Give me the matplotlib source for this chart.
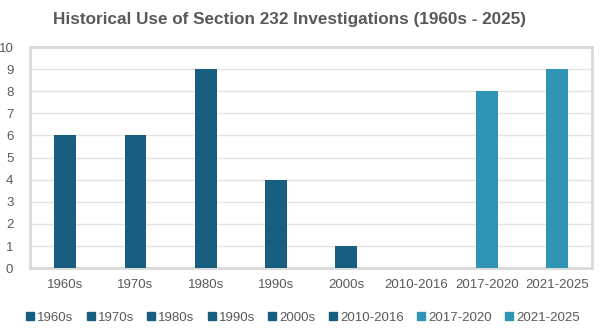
import matplotlib
matplotlib.use("Agg")
import matplotlib.pyplot as plt
from matplotlib.lines import Line2D

categories = ["1960s", "1970s", "1980s", "1990s", "2000s", "2010-2016", "2017-2020", "2021-2025"]
values = [6, 6, 9, 4, 1, 0, 8, 9]
colors = ["#185E80", "#185E80", "#185E80", "#185E80", "#185E80", "#185E80", "#3095B5", "#3095B5"]
yticks = list(range(0, 11))

plt.rcParams['font.family'] = ['Liberation Sans', 'DejaVu Sans']
fig = plt.figure(figsize=(6, 3.29), dpi=100)
ax = fig.add_axes([0.05, 0.185, 0.937, 0.672])

x = list(range(len(categories)))
for i, (c, v, col) in enumerate(zip(categories, values, colors)):
    ax.bar(i, v, width=0.31, color=col, label=c, zorder=3)

ax.set_xlim(-0.5, len(categories) - 0.5)
ax.set_ylim(0, 10)
ax.set_yticks(yticks)
ax.set_xticks(x)
ax.set_xticklabels(categories)
ax.tick_params(axis='both', length=0, colors="#595959", labelsize=9.5)
ax.tick_params(axis='x', pad=8)
ax.tick_params(axis='y', pad=12)
ax.grid(axis='y', color="#E3E3E3", linewidth=1, zorder=0)
for s in ax.spines.values():
    s.set_color("#D9D9D9")
    s.set_linewidth(2)

fig.text(0.483, 0.94, "Historical Use of Section 232 Investigations (1960s - 2025)",
         ha='center', va='center', fontsize=12.3, fontweight='bold', color="#595959")

handles = [Line2D([0], [0], marker='s', linestyle='none', markersize=5.5,
                  markerfacecolor=col, markeredgecolor=col) for col in colors]
fig.legend(handles, categories, loc='center', bbox_to_anchor=(0.505, 0.035), ncol=8,
           frameon=False, fontsize=9.5, handlelength=0.6, handletextpad=0.25,
           columnspacing=1.0, labelcolor="#595959")

fig.savefig("out.png", dpi=100)
